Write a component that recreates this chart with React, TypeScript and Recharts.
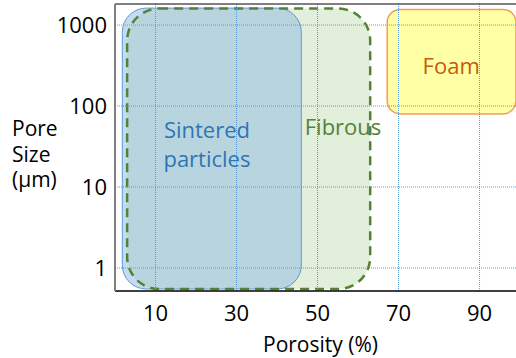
import { ComposedChart, XAxis, YAxis, ReferenceArea, ReferenceLine, ReferenceDot } from 'recharts';

// Porosity / pore-size regions for the three structure types
const regionNames = ['Fibrous', 'Sintered particles', 'Foam'];
const porosityLow = [3, 1.8, 67.2];
const porosityHigh = [63, 46, 99];
const poreLow = [0.55, 0.55, 80];
const poreHigh = [1600, 1620, 1560];
const labelPorosity = [56.3, 22.7, 83];
const labelPore = [55, 33, 310];

const porosityTicks = [10, 30, 50, 70, 90];
const poreTicks = [1, 10, 100, 1000];

const X_DOMAIN: [number, number] = [0, 99];
const Y_DOMAIN: [number, number] = [0.52, 1820];

const FONT = '"Open Sans", sans-serif';
const GRID = '#5B9BD5';

const BLUE = '#5B9BD5';
const GREEN = '#548235';
const ORANGE = '#ED7D31';

function roundRect(radius: number, style: Record<string, unknown>) {
  return (p: any) => (
    <rect x={p.x} y={p.y} width={p.width} height={p.height} rx={radius} ry={radius} {...style} />
  );
}

function regionText(lines: string[], color: string) {
  return (p: any) => {
    const lh = 29;
    const top = p.cy - ((lines.length - 1) * lh) / 2;
    return (
      <text x={p.cx} textAnchor="middle" fill={color} fontSize={22} fontFamily={FONT}>
        {lines.map((l, i) => (
          <tspan key={l} x={p.cx} y={top + i * lh} dy="0.355em">{l}</tspan>
        ))}
      </text>
    );
  };
}

const yLabelLines = ['Pore', 'Size', '(μm)'];

const yLabel = () => (
  <g>
    {yLabelLines.map((l, i) => (
      <text key={l} x={12} y={136 + i * 25.5} fill="#000" fontSize={21} fontFamily={FONT}>{l}</text>
    ))}
  </g>
);

export default function App() {
  const [fib, sin, foam] = [0, 1, 2];
  return (
    <div style={{ position: 'absolute', left: 0, top: 0, background: '#fff' }}>
      <ComposedChart
        width={516}
        height={358}
        data={[]}
        margin={{ top: 4, right: 0, bottom: 0, left: 0 }}
        style={{ fontFamily: FONT }}
      >
        <XAxis
          type="number"
          dataKey="x"
          domain={X_DOMAIN}
          ticks={porosityTicks}
          allowDataOverflow
          height={67}
          tickLine={false}
          tickSize={0}
          tickMargin={14}
          axisLine={{ stroke: '#000', strokeWidth: 1.5 }}
          tick={{ fill: '#000', fontSize: 22, fontFamily: FONT }}
          label={{ value: 'Porosity (%)', position: 'insideBottom', offset: 6, dx: 5, fill: '#000', fontSize: 21, fontFamily: FONT }}
        />
        <YAxis
          type="number"
          scale="log"
          domain={Y_DOMAIN}
          ticks={poreTicks}
          allowDataOverflow
          width={115}
          tickLine={false}
          tickSize={0}
          tickMargin={8}
          axisLine={{ stroke: '#808080', strokeWidth: 2 }}
          tick={{ fill: '#000', fontSize: 22, fontFamily: FONT }}
          label={{ content: yLabel }}
        />

        {/* Fibrous fill first, then sintered over it, then fibrous dashed outline */}
        <ReferenceArea
          x1={porosityLow[fib]} x2={porosityHigh[fib]} y1={poreLow[fib]} y2={poreHigh[fib]}
          ifOverflow="visible"
          shape={roundRect(32, { fill: '#E2EFDA', stroke: 'none' })}
        />
        <ReferenceArea
          x1={porosityLow[sin]} x2={porosityHigh[sin]} y1={poreLow[sin]} y2={poreHigh[sin]}
          ifOverflow="visible"
          shape={roundRect(24, { fill: '#96BFE4', fillOpacity: 0.55, stroke: BLUE, strokeWidth: 1 })}
        />
        <ReferenceArea
          x1={porosityLow[fib]} x2={porosityHigh[fib]} y1={poreLow[fib]} y2={poreHigh[fib]}
          ifOverflow="visible"
          shape={roundRect(32, { fill: 'none', stroke: GREEN, strokeWidth: 2.5, strokeDasharray: '9 6' })}
        />
        <ReferenceArea
          x1={porosityLow[foam]} x2={porosityHigh[foam]} y1={poreLow[foam]} y2={poreHigh[foam]}
          ifOverflow="visible"
          shape={roundRect(13, { fill: '#FFFFA6', stroke: ORANGE, strokeOpacity: 0.75, strokeWidth: 1.5 })}
        />

        {/* dotted grid on top of the regions */}
        {porosityTicks.map((t) => (
          <ReferenceLine key={`x${t}`} x={t} stroke={GRID} strokeWidth={1} strokeDasharray="1 1" ifOverflow="visible" />
        ))}
        {poreTicks.map((t) => (
          <ReferenceLine key={`y${t}`} y={t} stroke={GRID} strokeWidth={1} strokeDasharray="1 1" ifOverflow="visible" />
        ))}
        <ReferenceLine y={Y_DOMAIN[1]} stroke="#000" strokeWidth={1} ifOverflow="visible" />

        <ReferenceDot
          x={labelPorosity[sin]} y={labelPore[sin]} r={0} ifOverflow="visible"
          shape={regionText(['Sintered', 'particles'], '#2E75B6')}
        />
        <ReferenceDot
          x={labelPorosity[fib]} y={labelPore[fib]} r={0} ifOverflow="visible"
          shape={regionText([regionNames[fib]], GREEN)}
        />
        <ReferenceDot
          x={labelPorosity[foam]} y={labelPore[foam]} r={0} ifOverflow="visible"
          shape={regionText([regionNames[foam]], '#C55A11')}
        />
      </ComposedChart>
    </div>
  );
}
